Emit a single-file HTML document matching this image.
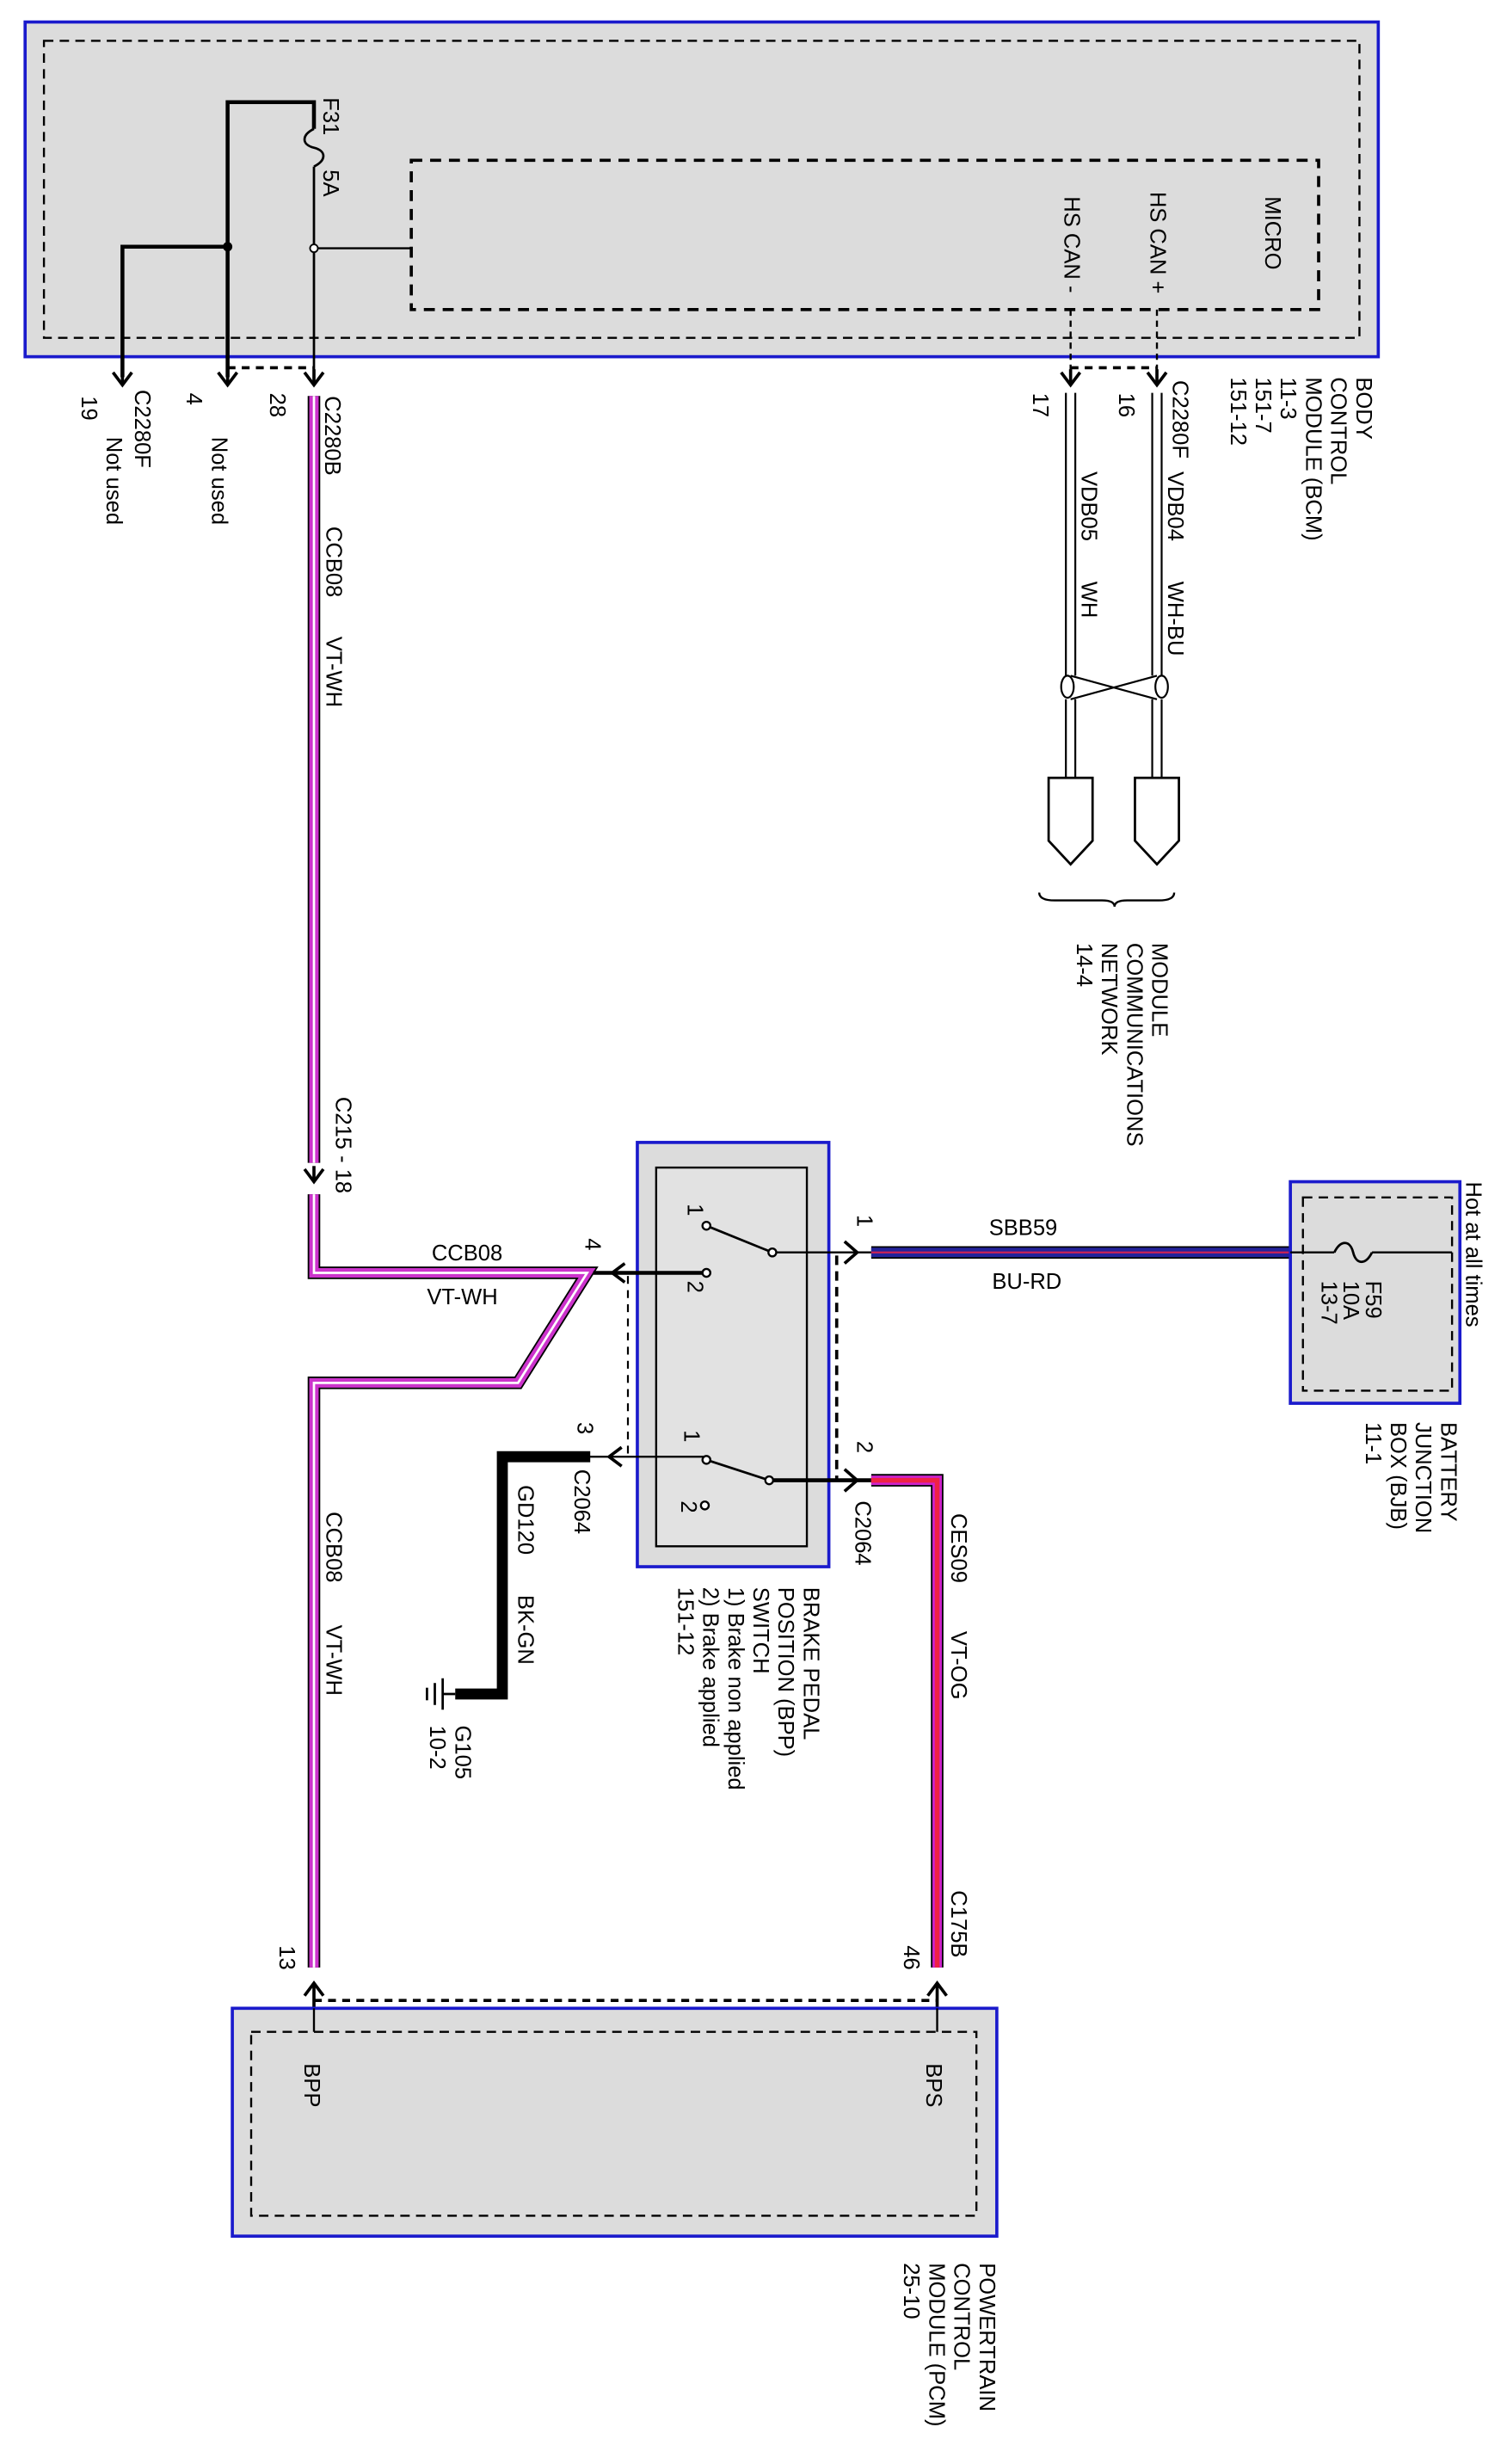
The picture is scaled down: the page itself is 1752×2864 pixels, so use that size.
<!DOCTYPE html>
<html><head><meta charset="utf-8"><style>
html,body{margin:0;padding:0;background:#fff}
svg{display:block}
text{font-family:"Liberation Sans",Arial,sans-serif;font-size:14px;fill:#000}
</style></head><body>
<svg width="1752" height="2864" viewBox="0 0 960 1568" preserveAspectRatio="none" xmlns="http://www.w3.org/2000/svg">
<defs>
<g id="chd"><polyline points="-6,-6 0,2 6,-6" fill="none" stroke="#000" stroke-width="2"/><line x1="0" y1="-8" x2="0" y2="2" stroke="#000" stroke-width="2"/></g>
</defs>
<!-- BCM -->
<rect x="16" y="14" width="862" height="213" fill="#dcdcdc" stroke="#1a1acc" stroke-width="2"/>
<rect x="28" y="26" width="838" height="189" fill="none" stroke="#000" stroke-width="1.3" stroke-dasharray="6,4"/>
<rect x="262" y="102" width="578" height="95" fill="none" stroke="#000" stroke-width="2" stroke-dasharray="7,5"/>
<text transform="rotate(90 806 125)" x="806" y="125">MICRO</text>
<text transform="rotate(90 733 122)" x="733" y="122">HS CAN +</text>
<text transform="rotate(90 678 125)" x="678" y="125">HS CAN -</text>
<line x1="682" y1="197" x2="682" y2="240" stroke="#000" stroke-width="1.3" stroke-dasharray="4,3"/>
<line x1="737" y1="197" x2="737" y2="240" stroke="#000" stroke-width="1.3" stroke-dasharray="4,3"/>
<!-- fuse area -->
<polyline points="145,240 145,65 200,65 200,82" fill="none" stroke="#000" stroke-width="2.5"/>
<path d="M200,82 c-8,4 -8,10 0,12 c8,2 8,8 0,12" fill="none" stroke="#000" stroke-width="1.5"/>
<line x1="200" y1="106" x2="200" y2="240" stroke="#000" stroke-width="1.5"/>
<polyline points="78,240 78,157 145,157" fill="none" stroke="#000" stroke-width="2.5"/>
<circle cx="145" cy="157" r="3"/>
<circle cx="200" cy="158" r="2.5" fill="#fff" stroke="#000"/>
<line x1="202" y1="158" x2="262" y2="158" stroke="#000" stroke-width="1.3"/>
<text transform="rotate(90 206 62)" x="206" y="62">F31</text>
<text transform="rotate(90 206 108)" x="206" y="108">5A</text>
<use href="#chd" x="78" y="243"/><use href="#chd" x="145" y="243"/><use href="#chd" x="200" y="243"/>
<use href="#chd" x="682" y="243"/><use href="#chd" x="737" y="243"/>
<line x1="145" y1="234" x2="200" y2="234" stroke="#000" stroke-width="2" stroke-dasharray="5,4"/>
<line x1="682" y1="234" x2="737" y2="234" stroke="#000" stroke-width="2" stroke-dasharray="5,4"/>
<text transform="rotate(90 52 252)" x="52" y="252">19</text>
<text transform="rotate(90 86 248)" x="86" y="248">C2280F</text>
<text transform="rotate(90 68 278)" x="68" y="278">Not used</text>
<text transform="rotate(90 119 250)" x="119" y="250">4</text>
<text transform="rotate(90 135 278)" x="135" y="278">Not used</text>
<text transform="rotate(90 172 250)" x="172" y="250">28</text>
<text transform="rotate(90 207 252)" x="207" y="252">C2280B</text>
<!-- BCM labels -->
<text transform="rotate(90 864 240)" x="864" y="240">BODY</text>
<text transform="rotate(90 848 240)" x="848" y="240">CONTROL</text>
<text transform="rotate(90 832 240)" x="832" y="240">MODULE (BCM)</text>
<text transform="rotate(90 816 240)" x="816" y="240">11-3</text>
<text transform="rotate(90 800 240)" x="800" y="240">151-7</text>
<text transform="rotate(90 784 240)" x="784" y="240">151-12</text>
<text transform="rotate(90 658 250)" x="658" y="250">17</text>
<text transform="rotate(90 713 250)" x="713" y="250">16</text>
<text transform="rotate(90 747 242)" x="747" y="242">C2280F</text>
<!-- CAN wires -->
<g stroke="#000" stroke-width="1.2" fill="none">
<line x1="679" y1="250" x2="679" y2="430"/><line x1="685" y1="250" x2="685" y2="430"/>
<line x1="734" y1="250" x2="734" y2="430"/><line x1="740" y1="250" x2="740" y2="430"/>
<line x1="679" y1="445" x2="679" y2="495"/><line x1="685" y1="445" x2="685" y2="495"/>
<line x1="734" y1="445" x2="734" y2="495"/><line x1="740" y1="445" x2="740" y2="495"/>
<path d="M682,430 L737,445 M737,430 L682,445"/>
<ellipse cx="680" cy="437" rx="4" ry="7"/><ellipse cx="740" cy="437" rx="4" ry="7"/>
<path d="M668,495 L696,495 L696,535 L682,550 L668,535 Z" fill="#fff" stroke-width="1.5"/>
<path d="M723,495 L751,495 L751,535 L737,550 L723,535 Z" fill="#fff" stroke-width="1.5"/>
<path d="M662,568 q0,5 10,5 h30 q8,0 8,4 q0,-4 8,-4 h20 q10,0 10,-5" stroke-width="1.3"/>
</g>
<text transform="rotate(90 689 300)" x="689" y="300">VDB05</text>
<text transform="rotate(90 689 370)" x="689" y="370">WH</text>
<text transform="rotate(90 744 300)" x="744" y="300">VDB04</text>
<text transform="rotate(90 744 370)" x="744" y="370">WH-BU</text>
<text transform="rotate(90 734 600)" x="734" y="600">MODULE</text>
<text transform="rotate(90 718 600)" x="718" y="600">COMMUNICATIONS</text>
<text transform="rotate(90 702 600)" x="702" y="600">NETWORK</text>
<text transform="rotate(90 686 600)" x="686" y="600">14-4</text>
<!-- CCB08 wire -->
<g fill="none" stroke-linejoin="miter">
<polyline points="200,252 200,740" stroke="#000" stroke-width="8"/>
<polyline points="200,252 200,740" stroke="#cc33cc" stroke-width="6"/>
<polyline points="200,252 200,740" stroke="#fff" stroke-width="1.5"/>
<polyline points="200,760 200,810 374,810 330,880 200,880 200,1252" stroke="#000" stroke-width="8"/>
<polyline points="200,760 200,810 374,810 330,880 200,880 200,1252" stroke="#cc33cc" stroke-width="6"/>
<polyline points="200,760 200,810 374,810 330,880 200,880 200,1252" stroke="#fff" stroke-width="1.5"/>
</g>
<text transform="rotate(90 208 335)" x="208" y="335">CCB08</text>
<text transform="rotate(90 208 405)" x="208" y="405">VT-WH</text>
<text transform="rotate(90 214 698)" x="214" y="698">C215 - 18</text>
<use href="#chd" x="200" y="750"/>
<text x="275" y="802">CCB08</text>
<text x="272" y="830">VT-WH</text>
<text transform="rotate(90 208 962)" x="208" y="962">CCB08</text>
<text transform="rotate(90 208 1034)" x="208" y="1034">VT-WH</text>
<!-- BPP switch -->
<rect x="406" y="727" width="122" height="270" fill="#dcdcdc" stroke="#1a1acc" stroke-width="2"/>
<rect x="418" y="743" width="96" height="241" fill="#e2e2e2" stroke="#000" stroke-width="1.3"/>
<g stroke="#000" fill="none">
<line x1="378" y1="810" x2="450" y2="810" stroke-width="2.5"/>
<polyline points="398,804 390,810 398,816" stroke-width="2"/>
<line x1="450" y1="780" x2="492" y2="797" stroke-width="1.5"/>
<line x1="494" y1="797" x2="555" y2="797" stroke-width="1.3"/>
<polyline points="538,790 546,797 538,804" stroke-width="2"/>
<line x1="375" y1="927" x2="450" y2="927" stroke-width="1.3"/>
<polyline points="396,921 388,927 396,933" stroke-width="2"/>
<line x1="450" y1="929" x2="490" y2="942" stroke-width="1.5"/>
<line x1="492" y1="942" x2="555" y2="942" stroke-width="2.5"/>
<polyline points="538,935 546,942 538,949" stroke-width="2"/>
<line x1="400" y1="812" x2="400" y2="927" stroke-width="1.2" stroke-dasharray="5,4"/>
<line x1="533" y1="799" x2="533" y2="942" stroke-width="2" stroke-dasharray="6,4"/>
</g>
<g fill="#fff" stroke="#000" stroke-width="1.3">
<circle cx="450" cy="780" r="2.5"/><circle cx="450" cy="810" r="2.5"/><circle cx="492" cy="797" r="2.5"/>
<circle cx="450" cy="929" r="2.5"/><circle cx="449" cy="958" r="2.5"/><circle cx="490" cy="942" r="2.5"/>
</g>
<text transform="rotate(90 438 766)" x="438" y="766">1</text>
<text transform="rotate(90 438 815)" x="438" y="815">2</text>
<text transform="rotate(90 436 910)" x="436" y="910">1</text>
<text transform="rotate(90 434 955)" x="434" y="955">2</text>
<text transform="rotate(90 373 788)" x="373" y="788">4</text>
<text transform="rotate(90 368 905)" x="368" y="905">3</text>
<text transform="rotate(90 366 935)" x="366" y="935">C2064</text>
<text transform="rotate(90 546 773)" x="546" y="773">1</text>
<text transform="rotate(90 546 917)" x="546" y="917">2</text>
<text transform="rotate(90 545 955)" x="545" y="955">C2064</text>
<text transform="rotate(90 512 1010)" x="512" y="1010">BRAKE PEDAL</text>
<text transform="rotate(90 496 1010)" x="496" y="1010">POSITION (BPP)</text>
<text transform="rotate(90 480 1010)" x="480" y="1010">SWITCH</text>
<text transform="rotate(90 464 1010)" x="464" y="1010">1) Brake non applied</text>
<text transform="rotate(90 448 1010)" x="448" y="1010">2) Brake applied</text>
<text transform="rotate(90 432 1010)" x="432" y="1010">151-12</text>
<!-- SBB59 -->
<line x1="555" y1="797" x2="822" y2="797" stroke="#000" stroke-width="8"/>
<line x1="555" y1="797" x2="822" y2="797" stroke="#22229a" stroke-width="6"/>
<line x1="555" y1="797" x2="822" y2="797" stroke="#cc2255" stroke-width="1.2"/>
<text x="630" y="786">SBB59</text>
<text x="632" y="820">BU-RD</text>
<!-- BJB -->
<rect x="822" y="752" width="108" height="141" fill="#dcdcdc" stroke="#1a1acc" stroke-width="2"/>
<rect x="830" y="762" width="95" height="123" fill="none" stroke="#000" stroke-width="1.3" stroke-dasharray="6,4"/>
<line x1="822" y1="797" x2="850" y2="797" stroke="#000" stroke-width="1.3"/>
<path d="M850,797 c4,-8 10,-8 12,0 c2,8 8,8 12,0" fill="none" stroke="#000" stroke-width="1.5"/>
<line x1="874" y1="797" x2="925" y2="797" stroke="#000" stroke-width="1.3"/>
<text transform="rotate(90 870 815)" x="870" y="815">F59</text>
<text transform="rotate(90 856 815)" x="856" y="815">10A</text>
<text transform="rotate(90 842 815)" x="842" y="815">13-7</text>
<text transform="rotate(90 934 752)" x="934" y="752">Hot at all times</text>
<text transform="rotate(90 918 905)" x="918" y="905">BATTERY</text>
<text transform="rotate(90 902 905)" x="902" y="905">JUNCTION</text>
<text transform="rotate(90 886 905)" x="886" y="905">BOX (BJB)</text>
<text transform="rotate(90 870 905)" x="870" y="905">11-1</text>
<!-- GD120 -->
<polyline points="376,927 320,927 320,1078 290,1078" fill="none" stroke="#000" stroke-width="7"/>
<g stroke="#000" stroke-width="1.5"><line x1="290" y1="1078" x2="282" y2="1078"/><line x1="282" y1="1068" x2="282" y2="1088"/><line x1="277" y1="1071" x2="277" y2="1085"/><line x1="272" y1="1074" x2="272" y2="1082"/></g>
<text transform="rotate(90 330 945)" x="330" y="945">GD120</text>
<text transform="rotate(90 330 1015)" x="330" y="1015">BK-GN</text>
<text transform="rotate(90 290 1098)" x="290" y="1098">G105</text>
<text transform="rotate(90 274 1098)" x="274" y="1098">10-2</text>
<!-- CES09 -->
<polyline points="555,942 597,942 597,1252" fill="none" stroke="#000" stroke-width="8"/>
<polyline points="555,942 597,942 597,1252" fill="none" stroke="#cc22cc" stroke-width="6"/>
<polyline points="555,942 597,942 597,1252" fill="none" stroke="#ee2244" stroke-width="3"/>
<text transform="rotate(90 606 963)" x="606" y="963">CES09</text>
<text transform="rotate(90 606 1038)" x="606" y="1038">VT-OG</text>
<text transform="rotate(90 606 1203)" x="606" y="1203">C175B</text>
<text transform="rotate(90 576 1238)" x="576" y="1238">46</text>
<text transform="rotate(90 178 1238)" x="178" y="1238">13</text>
<!-- PCM -->
<g stroke="#000" stroke-width="2" fill="none">
<polyline points="194,1270 200,1262 206,1270"/><line x1="200" y1="1262" x2="200" y2="1295"/>
<polyline points="591,1270 597,1262 603,1270"/><line x1="597" y1="1262" x2="597" y2="1295"/>
</g>
<line x1="200" y1="1273" x2="597" y2="1273" stroke="#000" stroke-width="2" stroke-dasharray="5,4"/>
<rect x="148" y="1278" width="487" height="145" fill="#dcdcdc" stroke="#1a1acc" stroke-width="2"/>
<rect x="160" y="1293" width="462" height="117" fill="none" stroke="#000" stroke-width="1.3" stroke-dasharray="6,4"/>
<line x1="200" y1="1278" x2="200" y2="1293" stroke="#000" stroke-width="1.3"/>
<line x1="597" y1="1278" x2="597" y2="1293" stroke="#000" stroke-width="1.3"/>
<text transform="rotate(90 194 1313)" x="194" y="1313">BPP</text>
<text transform="rotate(90 590 1313)" x="590" y="1313">BPS</text>
<text transform="rotate(90 624 1440)" x="624" y="1440">POWERTRAIN</text>
<text transform="rotate(90 608 1440)" x="608" y="1440">CONTROL</text>
<text transform="rotate(90 592 1440)" x="592" y="1440">MODULE (PCM)</text>
<text transform="rotate(90 576 1440)" x="576" y="1440">25-10</text>
</svg>
</body></html>
